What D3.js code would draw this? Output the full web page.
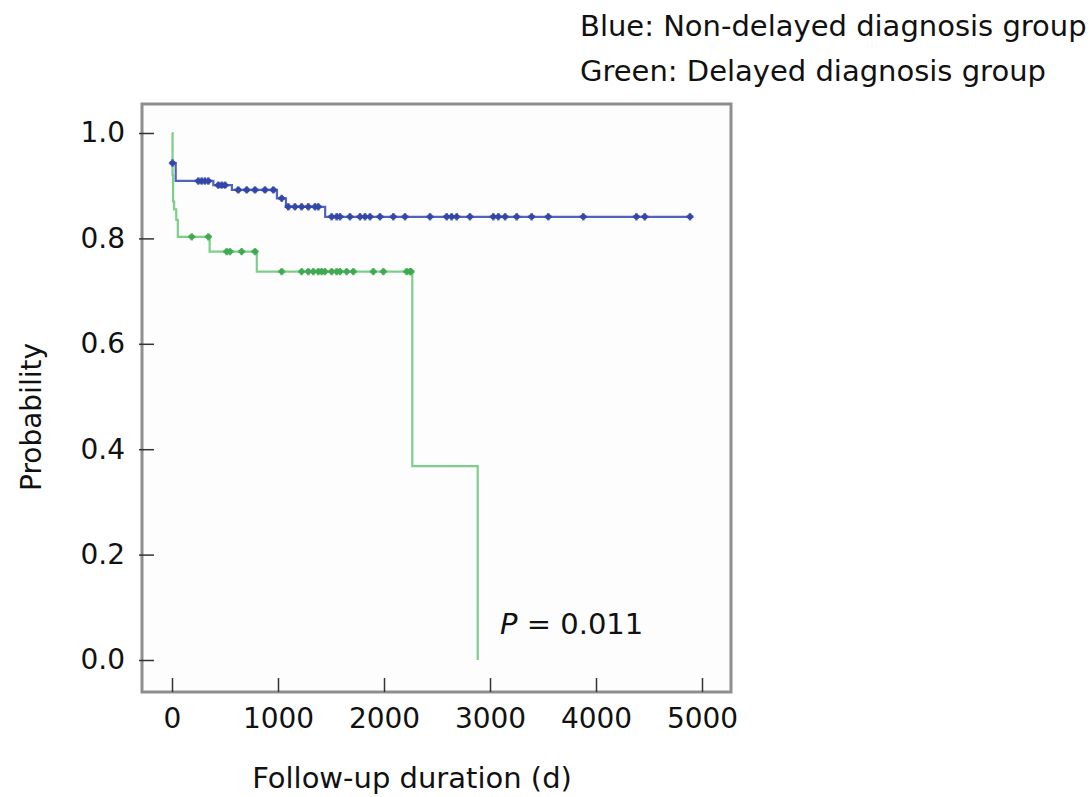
<!DOCTYPE html>
<html>
<head>
<meta charset="utf-8">
<script src="https://cdn.jsdelivr.net/npm/d3@7"></script>
<style>
  body { margin: 0; background: #fff; }
  svg text { fill: #111; }
</style>
</head>
<body>
<div id="chart"></div>
<script>
// survival curve data
const xTicks = [0, 1000, 2000, 3000, 4000, 5000];
const yTicks = [0.0, 0.2, 0.4, 0.6, 0.8, 1.0];

// non-delayed group (blue): step times and survival after each step
const blueTimes = [0, 35, 390, 565, 990, 1075, 1445, 4887];
const blueSurv  = [0.943, 0.909, 0.901, 0.892, 0.876, 0.860, 0.841, 0.841];
const blueCensor = [5, 248, 280, 311, 343, 437, 469, 500, 625, 705, 783, 877, 956, 1035,
  1097, 1160, 1223, 1286, 1349, 1380, 1506, 1554, 1585, 1679, 1774, 1821, 1868, 1962,
  2088, 2198, 2434, 2591, 2638, 2686, 2811, 3031, 3078, 3142, 3252, 3393, 3550, 3880,
  4381, 4460, 4887];

// delayed group (green)
const greenTimes = [0, 5, 10, 20, 40, 55, 355, 800, 2267, 2884];
const greenSurv  = [1.0, 0.92, 0.87, 0.855, 0.835, 0.803, 0.775, 0.737, 0.368, 0.0];
const greenCensor = [186, 343, 516, 547, 657, 783, 1035, 1223, 1286, 1333, 1380, 1412,
  1443, 1506, 1554, 1585, 1648, 1711, 1899, 1994, 2214, 2245, 2255];

const legendLines = ['Blue: Non-delayed diagnosis group', 'Green: Delayed diagnosis group'];

const width = 1091, height = 797;
const frame = { left: 142, top: 104, right: 731, bottom: 692 };

const svg = d3.select('#chart').append('svg')
  .attr('width', width).attr('height', height);

const x = d3.scaleLinear().domain([0, 5000]).range([172, 702]);
const y = d3.scaleLinear().domain([0, 1]).range([660, 133]);

// frame
svg.append('rect')
  .attr('x', frame.left).attr('y', frame.top)
  .attr('width', frame.right - frame.left).attr('height', frame.bottom - frame.top)
  .attr('fill', '#fdfdfd').attr('stroke', '#8e8e8e').attr('stroke-width', 3);

// axes
const font = 'DejaVu Sans, Verdana, sans-serif';
const yAxis = svg.append('g')
  .attr('transform', `translate(${frame.left},0)`)
  .call(d3.axisLeft(y).tickValues(yTicks).tickFormat(d3.format('.1f'))
    .tickSizeInner(-12).tickSizeOuter(0).tickPadding(17));
const xAxis = svg.append('g')
  .attr('transform', `translate(0,${frame.bottom})`)
  .call(d3.axisBottom(x).tickValues(xTicks).tickFormat(d3.format('d'))
    .tickSizeInner(-14).tickSizeOuter(0).tickPadding(16));
[xAxis, yAxis].forEach(g => {
  g.select('.domain').remove();
  g.selectAll('.tick line').attr('stroke', '#333').attr('stroke-width', 1.5);
  g.selectAll('.tick text').attr('font-family', font).attr('font-size', 28).attr('fill', '#111');
});
yAxis.selectAll('.tick line').attr('x1', -3);

// step curves
function stepPoints(times, surv) {
  const pts = [[times[0], surv[0]]];
  for (let i = 1; i < times.length; i++) {
    pts.push([times[i], surv[i - 1]]);
    pts.push([times[i], surv[i]]);
  }
  return pts;
}
function survAt(times, surv, t) {
  const i = d3.bisectRight(times, t) - 1;
  return surv[Math.max(0, i)];
}
const line = d3.line().x(d => x(d[0])).y(d => y(d[1]));

const groups = [
  { times: blueTimes, surv: blueSurv, censor: blueCensor, line: '#5263bd', mark: '#3347a6' },
  { times: greenTimes, surv: greenSurv, censor: greenCensor, line: '#7ccf89', mark: '#40aa52' }
];
groups.slice().reverse().forEach(gr => {
  const pts = stepPoints(gr.times, gr.surv);
  if (gr.times === greenTimes) pts.unshift([0, 1.0]);
  svg.append('path').datum(pts)
    .attr('d', line).attr('fill', 'none')
    .attr('stroke', gr.line).attr('stroke-width', 2.2);
  const marks = svg.append('g');
  gr.censor.forEach(t => {
    const cx = x(t), cy = y(survAt(gr.times, gr.surv, t));
    marks.append('path')
      .attr('transform', `translate(${cx},${cy})`)
      .attr('d', d3.symbol(d3.symbolCross, 30)())
      .attr('fill', gr.mark).attr('opacity', 0.8);
    marks.append('circle').attr('cx', cx).attr('cy', cy).attr('r', 2.8)
      .attr('fill', gr.mark);
  });
});

// p-value
const pText = svg.append('text')
  .attr('x', 500).attr('y', 634)
  .attr('font-family', font).attr('font-size', 29);
pText.append('tspan').attr('font-style', 'italic').text('P');
pText.append('tspan').text(' = 0.011');

// legend
const labelFont = 'DejaVu Sans, Tahoma, sans-serif';
svg.selectAll('.legend').data(legendLines).join('text')
  .attr('class', 'legend')
  .attr('x', 580).attr('y', (d, i) => 36 + i * 45)
  .attr('font-family', labelFont).attr('font-size', 29)
  .text(d => d);

// axis titles
svg.append('text')
  .attr('x', 412).attr('y', 788).attr('text-anchor', 'middle')
  .attr('font-family', labelFont).attr('font-size', 29)
  .text('Follow-up duration (d)');
svg.append('text')
  .attr('transform', 'translate(41,417) rotate(-90)').attr('text-anchor', 'middle')
  .attr('font-family', labelFont).attr('font-size', 28)
  .text('Probability');
</script>
</body>
</html>
